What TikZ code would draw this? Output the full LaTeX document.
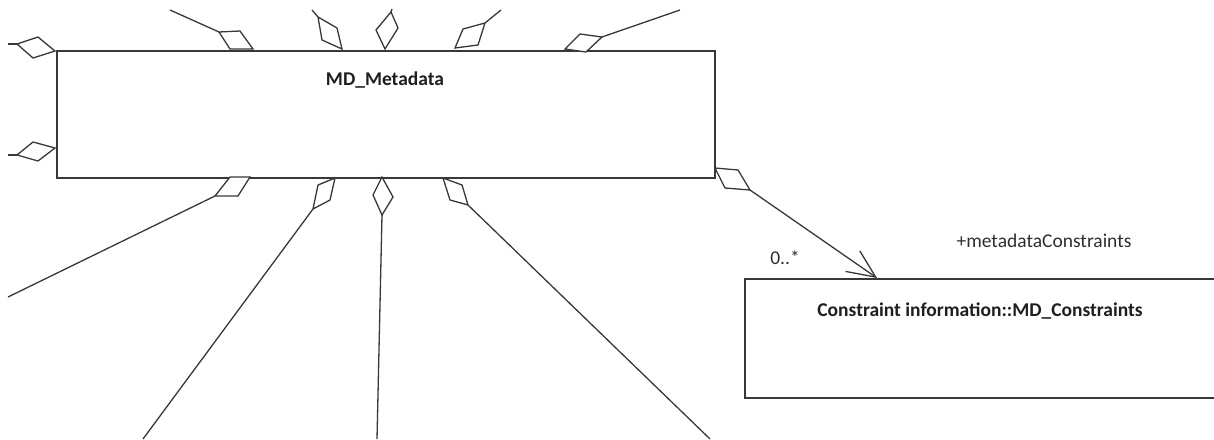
\documentclass[tikz,border=0pt]{standalone}
\usepackage{fontspec}
\setmainfont{Carlito}
\usetikzlibrary{arrows.meta}
\begin{document}
\begin{tikzpicture}[x=1pt,y=-1pt,
  classbox/.style={draw=black!78, line width=1.6pt, fill=white, rectangle,
                   inner sep=0pt, anchor=north west},
  agg/.style={draw=black!78, line width=1.3pt, fill=white, line join=miter},
  link/.style={draw=black!78, line width=1.3pt},
  title/.style={font=\fontsize{19.5}{23}\selectfont\bfseries, text=black!88, inner sep=0pt},
  role/.style={font=\fontsize{19.5}{23}\selectfont, text=black!82, inner sep=0pt}]
\useasboundingbox (0,0) rectangle (1214,439);
\clip (0,0) rectangle (1214,439);

% free ends of the aggregation links
\coordinate (eA) at (170,10);
\coordinate (eB) at (312,10);
\coordinate (eC) at (392,9);
\coordinate (eD) at (501,10);
\coordinate (eE) at (680,10);
\coordinate (eL1) at (8,44);
\coordinate (eL2) at (8,155);
\coordinate (eF) at (8,297);
\coordinate (eG) at (143,439);
\coordinate (eH) at (377,439);
\coordinate (eI) at (710,439);

% far corners of the aggregation diamonds
\coordinate (fA) at (219,32);
\coordinate (fB) at (318,17);
\coordinate (fC) at (391,12);
\coordinate (fD) at (485,23);
\coordinate (fE) at (602,37);
\coordinate (fL1) at (17,44);
\coordinate (fL2) at (17,155);
\coordinate (fF) at (215,196);
\coordinate (fG) at (313,209);
\coordinate (fH) at (382,215);
\coordinate (fI) at (468,205);
\coordinate (fR) at (750,190);

% links
\foreach \k in {A,B,C,D,E,L1,L2,F,G,H,I}
  \draw[link] (f\k) -- (e\k);

% classes
\node[classbox, minimum width=658pt, minimum height=127pt] (meta) at (56,50) {};
\node[classbox, minimum width=472pt, minimum height=119pt] (cons) at (744,278) {};

% navigable association to MD_Constraints
\coordinate (tip) at (877,278);
\draw[link, -{Straight Barb[length=28pt,width=25pt]}] (fR) -- (tip);

% aggregation diamonds
\draw[agg] (230,49) -- (fA) -- (240,31) -- (253,49) -- cycle;
\draw[agg] (342,49) -- (322,40) -- (fB) -- (337,28) -- cycle;
\draw[agg] (385,49) -- (376,30) -- (fC) -- (398,28) -- cycle;
\draw[agg] (455,48) -- (463,29) -- (fD) -- (478,45) -- cycle;
\draw[agg] (565,49) -- (580,34) -- (fE) -- (586,52) -- cycle;
\draw[agg] (55,51) -- (38,37) -- (fL1) -- (33,58) -- cycle;
\draw[agg] (55,148) -- (33,142) -- (fL2) -- (38,161) -- cycle;
\draw[agg] (250,177) -- (230,177) -- (fF) -- (238,196) -- cycle;
\draw[agg] (335,178) -- (318,185) -- (fG) -- (330,200) -- cycle;
\draw[agg] (382,177) -- (373,195) -- (fH) -- (393,197) -- cycle;
\draw[agg] (443,178) -- (462,185) -- (fI) -- (450,200) -- cycle;
\draw[agg] (715,168) -- (738,170) -- (fR) -- (725,188) -- cycle;

% texts
\node[title] (metaname) at (385,80) {MD\_Metadata};
\node[title] (consname) at (980,311) {Constraint information::MD\_Constraints};
\node[role] (rolename) at (1044,241) {+metadataConstraints};
\node[role] (mult) at (785,258) {0..*};
\end{tikzpicture}
\end{document}
